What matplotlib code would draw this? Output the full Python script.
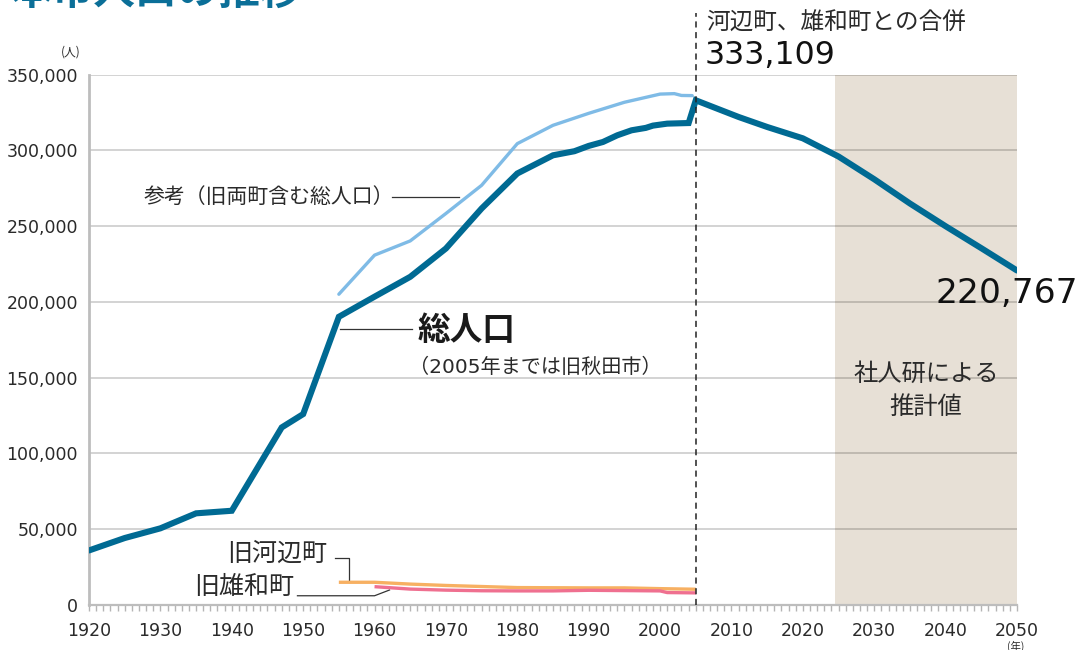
import matplotlib
matplotlib.use("Agg")
import matplotlib.pyplot as plt
from matplotlib.ticker import FuncFormatter, MultipleLocator

plt.rcParams['font.family'] = ['Noto Sans CJK JP', 'DejaVu Sans']
NUM_FONT = ['DejaVu Sans', 'Noto Sans CJK JP']

# ---- data ----
total_years = [1920, 1925, 1930, 1935, 1940, 1947, 1950, 1955, 1960, 1965, 1970,
               1975, 1980, 1985, 1988, 1990, 1992, 1994, 1996, 1998, 1999, 2001,
               2004, 2005, 2008, 2011, 2015, 2020, 2025, 2030, 2035, 2040, 2045, 2050]
total_pop = [36000, 44200, 50600, 60500, 62200, 117200, 126000, 190200, 203500,
             216600, 235300, 261700, 284800, 296800, 299500, 303000, 305600,
             310000, 313300, 314900, 316400, 317700, 318100, 333109, 327600,
             322100, 315500, 308000, 296000, 281000, 265000, 250000, 235500, 220767]

ref_years = [1955, 1960, 1965, 1970, 1975, 1980, 1985, 1990, 1995, 2000, 2002, 2003, 2004.5]
ref_pop = [205100, 230900, 240300, 258400, 277000, 304500, 316600, 324500,
           331800, 337200, 337500, 336300, 336200]

kawabe_years = [1955, 1960, 1965, 1970, 1975, 1980, 1985, 1990, 1995, 2000, 2005]
kawabe_pop = [15000, 15000, 13800, 12900, 12200, 11500, 11400, 11300, 11300, 10800, 10400]

yuwa_years = [1960, 1965, 1970, 1975, 1980, 1985, 1990, 1995, 2000, 2001, 2005]
yuwa_pop = [12100, 10500, 9800, 9400, 9300, 9300, 9700, 9500, 9300, 8200, 8000]

y_ticks = [0, 50000, 100000, 150000, 200000, 250000, 300000, 350000]
x_ticks = [1920, 1930, 1940, 1950, 1960, 1970, 1980, 1990, 2000, 2010, 2020, 2030, 2040, 2050]

merge_year = 2005
merge_pop = 333109
final_pop = 220767
proj_start, proj_end = 2024.5, 2050

# ---- colours ----
C_MAIN = '#006a93'
C_REF = '#7fbbe6'
C_KAWABE = '#f7b062'
C_YUWA = '#ef7090'
C_SHADE = '#e7e0d6'
C_TEXT = '#2a2a2a'

fig = plt.figure(figsize=(10.83, 6.5), dpi=100)
ax = fig.add_axes([89 / 1083, 1 - 605 / 650, (1017 - 89) / 1083, (605 - 74.7) / 650])

ax.set_xlim(1920, 2050)
ax.set_ylim(0, 350000)

ax.axvspan(proj_start, proj_end, color=C_SHADE, zorder=0, lw=0)

for v in y_ticks[1:]:
    ax.axhline(v, color='black', alpha=0.2, lw=1.2, zorder=1)

ax.plot(kawabe_years, kawabe_pop, color=C_KAWABE, lw=2.4, zorder=3, solid_capstyle='butt')
ax.plot(yuwa_years, yuwa_pop, color=C_YUWA, lw=2.4, zorder=3, solid_capstyle='butt')
ax.plot(ref_years, ref_pop, color=C_REF, lw=2.4, zorder=3, solid_capstyle='round')
ax.plot(total_years, total_pop, color=C_MAIN, lw=4.4, zorder=4,
        solid_capstyle='round', solid_joinstyle='miter')

# dashed merger line
ax.plot([merge_year, merge_year], [0, 390500], color='#222222', lw=1.1,
        ls=(0, (4, 3)), clip_on=False, zorder=5)

# spines & ticks
for s in ['top', 'right']:
    ax.spines[s].set_visible(False)
ax.spines['left'].set_color('#bdbdbd')
ax.spines['left'].set_linewidth(2)
ax.spines['bottom'].set_color('#bdbdbd')
ax.spines['bottom'].set_linewidth(1.6)

ax.set_yticks(y_ticks)
ax.yaxis.set_major_formatter(FuncFormatter(lambda v, p: '0' if v == 0 else f'{int(v):,}'))
ax.tick_params(axis='y', length=0, pad=8, labelsize=12.5, labelcolor=C_TEXT,
               labelfontfamily='DejaVu Sans')

ax.set_xticks(x_ticks)
ax.xaxis.set_minor_locator(MultipleLocator(1))
ax.tick_params(axis='x', which='both', length=4, width=1, color='#b5b5b5',
               direction='out', labelsize=12.5, labelcolor=C_TEXT, pad=8,
               labelfontfamily='DejaVu Sans')

# unit labels
fig.text(71 / 1083, 1 - 52.5 / 650, '(人)', fontsize=8.5, color=C_TEXT, ha='center', va='center')
fig.text(1016 / 1083, 1 - 646 / 650, '(年)', fontsize=7.5, color=C_TEXT, ha='center', va='center')

# title (cut at top)
fig.text(10 / 1083, 1 - 4 / 650, '本市人口の推移', fontsize=30, fontweight='bold',
         color='#0b6f98', ha='left', va='baseline')

# annotations
ax.text(1962.8, 269600, '参考（旧両町含む総人口）', fontsize=15, color=C_TEXT,
        ha='right', va='center')
ax.plot([1962.4, 1971.9], [269600, 269600], color='#333333', lw=0.9, zorder=2)

ax.plot([1955.1, 1965.2], [182000, 182000], color='#333333', lw=0.9, zorder=2)
ax.text(1966.0, 181400, '総人口', fontsize=23.5, fontweight='bold', color='#1a1a1a',
        ha='left', va='center')
ax.text(1964.8, 156700, '（2005年までは旧秋田市）', fontsize=14.5, color=C_TEXT,
        ha='left', va='center', family=NUM_FONT)

ax.text(1953.3, 33600, '旧河辺町', fontsize=18, color=C_TEXT, ha='right', va='center')
ax.plot([1954.4, 1956.4, 1956.4], [31000, 31000, 15000], color='#333333', lw=0.9, zorder=2)

ax.text(1948.8, 11900, '旧雄和町', fontsize=18, color=C_TEXT, ha='right', va='center')
ax.plot([1949.2, 1960.0, 1962.1], [6100, 6100, 9900], color='#333333', lw=0.9, zorder=2,
        clip_on=False)

ax.text(2006.5, 383900, '河辺町、雄和町との合併', fontsize=17, color=C_TEXT,
        ha='left', va='center', clip_on=False)
ax.text(2006.3, 362400, f'{merge_pop:,}', fontsize=22.8, color='#111111',
        ha='left', va='center', clip_on=False, family='DejaVu Sans')

ax.text(2038.6, 205800, f'{final_pop:,}', fontsize=24.8, color='#111111',
        ha='left', va='center', clip_on=False, family='DejaVu Sans')

ax.text((proj_start + proj_end) / 2, 152400, '社人研による', fontsize=17.5, color=C_TEXT,
        ha='center', va='center')
ax.text((proj_start + proj_end) / 2, 130600, '推計値', fontsize=17.5, color=C_TEXT,
        ha='center', va='center')

fig.savefig('out.png', dpi=100)
